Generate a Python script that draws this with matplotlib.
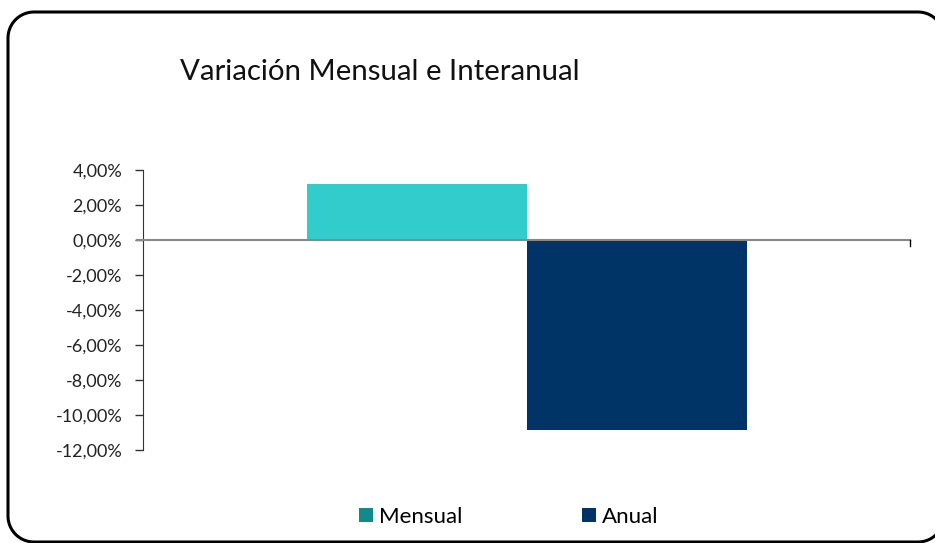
import numpy as np
import matplotlib.pyplot as plt
from matplotlib.lines import Line2D
from matplotlib.patches import Patch

plt.rcParams['font.family'] = ['Lato', 'DejaVu Sans']

series = ['Mensual', 'Anual']
valores = [3.2, -10.85]
colores_barra = ['#33CCCC', '#003366']
colores_leyenda = ['#138A8A', '#003366']
yticks = [4, 2, 0, -2, -4, -6, -8, -10, -12]

W, H = 935, 543
fig = plt.figure(figsize=(W / 100, H / 100), dpi=100)
ax = fig.add_axes([143 / W, 1 - 450 / H, (910 - 143) / W, 280 / H])


def marco_redondeado(x0, y0, x1, y1, r):
    # esquinas en pixeles (y hacia abajo), devuelve coordenadas de figura
    t = np.linspace(0, np.pi / 2, 20)
    xs, ys = [], []
    for cx, cy, a0 in [(x1 - r, y0 + r, 0), (x0 + r, y0 + r, np.pi / 2),
                       (x0 + r, y1 - r, np.pi), (x1 - r, y1 - r, 1.5 * np.pi)]:
        xs += list(cx + r * np.cos(a0 + t))
        ys += list(cy - r * np.sin(a0 + t))
    xs.append(xs[0])
    ys.append(ys[0])
    return np.array(xs) / W, 1 - np.array(ys) / H


mx, my = marco_redondeado(8, 12, 944, 542, 26)
fig.add_artist(Line2D(mx, my, transform=fig.transFigure, color='black', linewidth=2.2))

w = 220 / 767
posiciones = [-w / 2, w / 2]
for x, v, c in zip(posiciones, valores, colores_barra):
    ax.bar(x, v, width=w, color=c, zorder=2)

ax.set_xlim(-0.5, 0.5)
ax.set_ylim(-12, 4)
ax.set_yticks(yticks)
ax.set_yticklabels([f'{t:.2f}%'.replace('.', ',') for t in yticks], fontsize=13, color='#222222')
ax.tick_params(axis='y', direction='out', length=6, width=1, color='#333333', pad=9)
ax.set_xticks([])

for s in ['top', 'right', 'bottom']:
    ax.spines[s].set_visible(False)
ax.spines['left'].set_color('#333333')
ax.axhline(0, xmin=-6 / 767, xmax=1, color='#888888', linewidth=1.5, zorder=3, clip_on=False)
ax.plot([0.5, 0.5], [0, -0.35], color='black', linewidth=1, clip_on=False, zorder=3)

fig.text(180 / W, 1 - 72 / H, 'Variación Mensual e Interanual', fontsize=21.2,
         color='#111111', va='center', ha='left')

handles = [Patch(facecolor=c, label=s) for s, c in zip(series, colores_leyenda)]
fig.legend(handles=handles, loc='center', bbox_to_anchor=(509 / W, 1 - 517 / H),
           ncol=2, frameon=False, fontsize=16, handlelength=0.63, handleheight=0.63,
           handletextpad=0.27, columnspacing=5.4, borderpad=0, borderaxespad=0)

fig.savefig('out.png', dpi=100)
